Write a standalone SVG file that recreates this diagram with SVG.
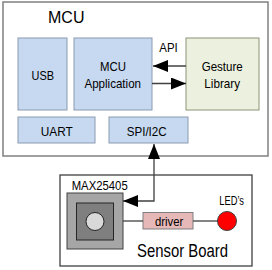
<svg xmlns="http://www.w3.org/2000/svg" width="272" height="270" viewBox="0 0 272 270">
<defs>
<style>
text{font-family:"Liberation Sans",Arial,sans-serif;fill:#000}
.t{font-size:13px}
.blk{fill:#c6d9f0;stroke:#8a9bb0;stroke-width:1}
.frame{fill:#fff;stroke:#808080;stroke-width:1.5}
.ln{fill:none;stroke:#404040;stroke-width:1.3}
</style>
<marker id="ahb" viewBox="0 0 15 12" refX="15" refY="6" markerWidth="15" markerHeight="12" markerUnits="userSpaceOnUse" orient="auto">
<path d="M0,0 L15,6 L0,12 z" fill="#000"/>
</marker>
</defs>
<g id="mcu">
<rect class="frame" x="3" y="2" width="265" height="154"/>
<text x="48" y="22.5" font-size="16">MCU</text>
</g>
<g id="usb">
<rect class="blk" x="18" y="38" width="49" height="72"/>
<text class="t" x="31.5" y="79.5" textLength="22.5" lengthAdjust="spacingAndGlyphs">USB</text>
</g>
<g id="mcu-app">
<rect class="blk" x="74" y="38" width="78" height="72"/>
<text class="t" x="100" y="71" textLength="26" lengthAdjust="spacingAndGlyphs">MCU</text>
<text class="t" x="84.5" y="87.5" textLength="56.5" lengthAdjust="spacingAndGlyphs">Application</text>
</g>
<g id="gesture">
<rect x="186" y="38" width="73" height="72" fill="#ebf1de" stroke="#8a9478"/>
<text class="t" x="201.7" y="71" textLength="41" lengthAdjust="spacingAndGlyphs">Gesture</text>
<text class="t" x="204.3" y="87.5" textLength="35.7" lengthAdjust="spacingAndGlyphs">Library</text>
</g>
<g id="uart">
<rect class="blk" x="18" y="117" width="77" height="26"/>
<text class="t" x="40.7" y="135.5" textLength="32" lengthAdjust="spacingAndGlyphs">UART</text>
</g>
<g id="spi">
<rect class="blk" x="109" y="117" width="79" height="26"/>
<text class="t" x="126.7" y="135.5" textLength="40" lengthAdjust="spacingAndGlyphs">SPI/I2C</text>
</g>
<g id="sensor-board">
<rect x="60" y="175" width="192" height="91" fill="#fff" stroke="#404040" stroke-width="1.3"/>
<text x="137" y="257" font-size="17.5" textLength="91" lengthAdjust="spacingAndGlyphs">Sensor Board</text>
</g>
<g id="max25405">
<text class="t" x="71.7" y="189.5" textLength="56" lengthAdjust="spacingAndGlyphs">MAX25405</text>
<rect x="67" y="193" width="56" height="56" fill="#a6a6a6" stroke="#404040" stroke-width="1"/>
<rect x="76.5" y="203" width="37" height="37" fill="#7f7f7f" stroke="#262626" stroke-width="1"/>
<circle cx="95" cy="221.5" r="9" fill="#d9d9d9" stroke="#262626" stroke-width="1"/>
</g>
<g id="driver">
<rect x="143" y="212.5" width="50" height="16.5" fill="#e6b9b8" stroke="#7f7f7f" stroke-width="1"/>
<text class="t" x="155" y="225.5" textLength="28.3" lengthAdjust="spacingAndGlyphs">driver</text>
</g>
<g id="leds">
<circle cx="227" cy="221" r="9.5" fill="#ff0000" stroke="#404040" stroke-width="1"/>
<text class="t" x="219.3" y="205" textLength="24.7" lengthAdjust="spacingAndGlyphs">LED’s</text>
</g>
<g id="connectors">
<text class="t" x="159.3" y="51.7" textLength="18.4" lengthAdjust="spacingAndGlyphs">API</text>
<line class="ln" x1="186" y1="66" x2="153" y2="66" marker-end="url(#ahb)"/>
<line class="ln" x1="152" y1="83.5" x2="186" y2="83.5" marker-end="url(#ahb)"/>
<polyline class="ln" points="154,158 154,201 123,201" marker-end="url(#ahb)"/>
<line class="ln" x1="154" y1="158" x2="154" y2="144" marker-end="url(#ahb)"/>
<line class="ln" x1="123" y1="221" x2="143" y2="221"/>
<line class="ln" x1="193" y1="221" x2="217.5" y2="221"/>
</g>
</svg>
